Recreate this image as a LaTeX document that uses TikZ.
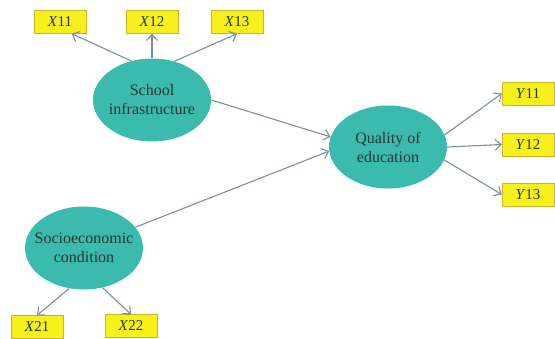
\documentclass[tikz,border=0pt]{standalone}
\usepackage{fontspec}
\setmainfont{Liberation Serif}
\usepackage{tikz}
\usetikzlibrary{shapes.geometric,arrows.meta}

\definecolor{latentfill}{RGB}{59,187,173}
\definecolor{boxfill}{RGB}{247,240,26}
\definecolor{boxline}{RGB}{200,182,40}
\definecolor{pathgray}{RGB}{125,142,162}
\definecolor{textgray}{RGB}{40,52,52}

\begin{document}
\begin{tikzpicture}[x=1pt, y=-1pt,
	latent/.style={ellipse, fill=latentfill, minimum width=118pt, minimum height=83pt, inner xsep=-10pt, inner ysep=0pt, align=center, text=textgray, font=\fontsize{16}{19}\selectfont},
	indicator/.style={rectangle, draw=boxline, fill=boxfill, minimum width=52pt, minimum height=23pt, inner sep=0pt, text=textgray, font=\fontsize{15}{17}\selectfont},
	load/.style={draw=pathgray, line width=1.1pt, -{Straight Barb[length=6pt,width=11pt]}}]

	\useasboundingbox (0,0) rectangle (555,339);

	\node[latent] (school) at (152,100) {School\\infrastructure};
	\node[latent] (quality) at (388,147) {Quality of\\education};
	\node[latent] (socio) at (84,248) {Socioeconomic\\condition};

	\node[indicator] (x11) at (60,22) {\textit{X}11};
	\node[indicator] (x12) at (152,22) {\textit{X}12};
	\node[indicator] (x13) at (237,22) {\textit{X}13};
	\node[indicator] (x21) at (37,327) {\textit{X}21};
	\node[indicator] (x22) at (131,326) {\textit{X}22};
	\node[indicator] (y11) at (528,93.5) {\textit{Y}11};
	\node[indicator] (y12) at (528,144.5) {\textit{Y}12};
	\node[indicator] (y13) at (528,194.5) {\textit{Y}13};

	\draw[load] (school.118) -- (x11.-45);
	\draw[load] (school.north) -- (x12.south);
	\draw[load] (school.60) -- (x13.south);

	\draw[load] (socio.-110) -- (x21.north);
	\draw[load] (socio.-65) -- (x22.north);

	\foreach \a/\y in {12/y11, 0/y12, -13/y13}
		\draw[load] (quality.\a) -- (\y.west);

	\draw[load] (school.east) -- (quality.170);
	\draw[load] (socio.22) -- (quality.184);

\end{tikzpicture}
\end{document}
